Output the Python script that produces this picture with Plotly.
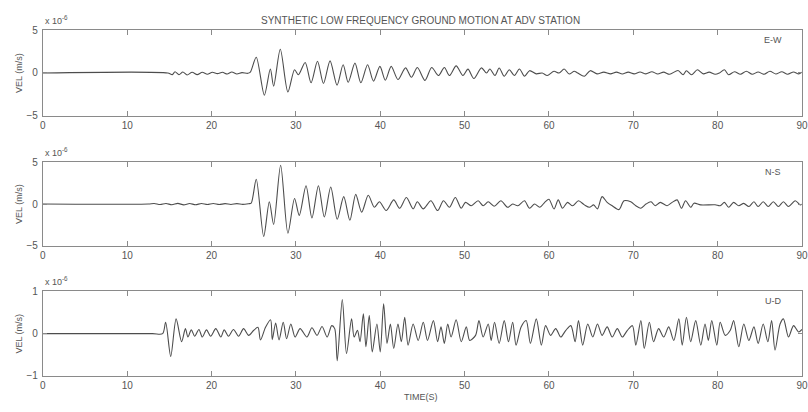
import plotly.graph_objects as go

# ---------------- data (velocity in units of 1e-6 m/s) ----------------
ew_t = [0, 14.8, 15.35, 15.67, 16.14, 16.6, 17.1, 17.7, 18.3, 18.9, 19.5, 20.1, 20.7, 21.3, 21.85, 22.4, 23.0, 23.6, 24.3,
        24.6, 25.3, 26.26, 26.97, 27.36, 28.15, 29.05, 29.84, 30.3, 31.1, 31.8, 32.56, 33.27, 34.05, 34.88, 35.6, 36.2,
        37.0, 37.7, 38.5, 39.2, 39.96, 40.6, 41.3, 42.1, 43.0, 43.7, 44.4, 45.3, 46.1, 46.9, 47.6, 48.2, 49.0, 49.8,
        50.4, 51.1, 52.0, 52.6, 53.0, 53.6, 54.1, 54.7, 55.3, 55.9, 56.5, 57.1, 57.7, 58.5, 59.2, 59.8, 60.6, 61.2,
        61.8, 62.4, 63.0, 63.4, 64.2, 64.9, 65.7, 66.5, 67.3, 68.0, 68.7, 69.4, 70.1, 70.8, 71.5, 72.2, 72.9, 73.6,
        74.3, 75.3, 75.9, 76.3, 76.9, 77.6, 78.3, 79.0, 79.7, 80.2, 80.8, 81.3, 82.0, 82.7, 83.4, 84.1, 84.8, 85.5,
        86.2, 86.9, 87.6, 88.3, 89.0, 89.6, 90]
ew_v = [0, 0, -0.19, 0.15, -0.19, 0.12, -0.23, 0.08, -0.19, 0.08, -0.15, 0.08, -0.08, 0.08, -0.12, 0.12, -0.12, 0.04, -0.04,
        0.1, 1.85, -2.6, 0.46, -1.54, 2.77, -2.23, 0.38, -0.2, 1.23, -1.15, 1.38, -1.23, 1.42, -1.42, 0.96, -1.08,
        1.15, -1.15, 0.96, -0.96, 0.77, -0.85, 0.77, -0.77, 0.6, -0.5, 0.64, -0.87, 0.64, -0.3, 0.64, -0.3, 0.83, -0.3,
        0.45, -0.65, 0.6, 0.0, 0.46, -0.3, 0.58, -0.38, 0.38, -0.3, 0.46, -0.38, 0.27, -0.1, 0.0, -0.3, 0.2, 0.0,
        0.46, -0.12, 0.2, 0.0, -0.38, 0.27, -0.1, 0.1, -0.1, 0.1, -0.12, 0.1, -0.1, 0.12, -0.1, 0.15, -0.12, 0.1,
        -0.15, 0.3, -0.2, 0.27, -0.2, 0.38, -0.1, 0.1, -0.15, 0.0, 0.38, -0.2, 0.15, -0.15, 0.2, -0.15, 0.12, -0.15,
        0.2, -0.12, 0.15, -0.15, 0.12, -0.1, 0.1]

ns_t = [0, 12.5, 13.2, 13.9, 14.6, 15.3, 16.0, 16.7, 17.4, 18.1, 18.8, 19.5, 20.2, 20.9, 21.6, 22.3, 23.0, 23.7, 24.4,
        24.7, 25.3, 26.18, 26.85, 27.36, 28.19, 29.05, 29.84, 30.4, 31.2, 31.9, 32.67, 33.37, 34.13, 34.9, 35.67, 36.4,
        37.09, 37.8, 38.58, 39.3, 39.9, 40.7, 41.6, 42.3, 43.1, 43.9, 44.4, 45.1, 46.0, 46.8, 47.5, 48.2, 48.9, 49.6,
        50.1, 50.8, 51.6, 52.2, 52.8, 53.5, 54.3, 55.1, 55.7, 56.3, 57.1, 57.7, 58.3, 58.9, 59.5, 60.0, 60.6, 61.1,
        61.6, 62.2, 62.8, 63.5, 64.2, 64.8, 65.3, 65.75, 66.3, 66.9, 67.5, 68.3, 68.9, 69.7, 70.3, 70.9, 71.5, 72.1,
        72.6, 73.2, 74.0, 74.6, 75.2, 75.7, 76.2, 76.8, 77.2, 78.0, 79.7, 80.3, 80.8, 81.3, 81.9, 82.5, 83.1, 83.7,
        84.3, 84.8, 85.4, 86.0, 86.6, 87.2, 87.8, 88.4, 89.2, 89.8, 90]
ns_v = [0, 0, 0.06, -0.06, 0.06, -0.08, 0.08, -0.1, 0.06, -0.08, 0.06, -0.06, 0.06, -0.06, 0.05, -0.05, 0.05, -0.04, 0.04,
        0.1, 2.98, -3.88, 0.27, -2.44, 4.65, -3.49, 0.66, -1.36, 2.2, -1.67, 2.2, -1.55, 2.05, -1.82, 0.89, -1.94,
        1.16, -0.97, 1.05, -0.39, 0.27, -0.78, 0.5, -0.5, 0.78, -0.58, 0.27, -0.58, 0.39, -0.78, 0.39, -0.39, 0.78, -0.5,
        0.2, -0.2, 0.39, -0.2, 0.27, -0.27, 0.39, -0.39, 0.0, -0.2, 0.39, -0.5, 0.0, -0.39, 0.2, 0.58, -0.58, 0.5,
        -0.5, 0.2, -0.2, 0.39, -0.1, -0.39, -0.1, -0.58, 0.89, 0.2, -0.2, -0.66, 0.39, 0.27, -0.2, -0.5, 0.0, 0.27,
        -0.2, 0.2, -0.2, 0.2, 0.5, -0.5, 0.39, -0.39, 0.1, -0.1, -0.08, -0.2, 0.2, -0.39, 0.2, -0.2, 0.08, -0.3,
        0.27, -0.3, 0.27, -0.3, 0.27, -0.3, 0.27, -0.3, 0.39, -0.1, 0.0]

ud_t = [0, 13.0, 14.2, 14.56, 15.16, 15.8, 16.45, 16.9, 17.2, 17.6, 18.0, 18.5, 18.9, 19.4, 19.9, 20.5, 21.1, 21.5, 22.0,
        22.6, 23.2, 23.8, 24.4, 25.0, 25.5, 25.8, 26.4, 27.0, 27.2, 27.6, 28.0, 28.5, 28.9, 29.4, 29.9, 30.5, 31.3,
        31.9, 32.5, 33.1, 33.7, 34.25, 34.6, 34.9, 35.5, 36.0, 36.6, 36.9, 37.3, 37.6, 38.0, 38.3, 38.7, 39.05, 39.6,
        40.0, 40.4, 40.8, 41.2, 41.6, 42.1, 42.5, 42.9, 43.3, 43.9, 44.5, 45.1, 45.6, 46.3, 46.8, 47.2, 47.6, 48.0,
        48.4, 49.0, 49.6, 50.2, 50.6, 51.3, 51.7, 52.2, 52.8, 53.15, 53.55, 54.1, 54.7, 55.2, 55.7, 56.1, 56.7, 57.3,
        57.8, 58.5, 59.1, 59.6, 60.2, 60.8, 61.4, 62.0, 62.6, 63.1, 63.5, 64.0, 64.6, 65.2, 65.75, 66.3, 66.9, 67.5,
        68.1, 68.7, 69.3, 69.9, 70.3, 70.9, 71.3, 71.9, 72.4, 73.0, 73.6, 74.2, 74.8, 75.4, 75.8, 76.3, 76.8, 77.4,
        78.0, 78.5, 78.9, 79.3, 79.9, 80.3, 80.9, 81.5, 81.9, 82.5, 83.1, 83.7, 84.3, 84.8, 85.4, 85.95, 86.4, 86.8,
        87.4, 87.8, 88.4, 89.0, 89.6, 90]
ud_v = [0, 0, 0, 0.27, -0.54, 0.35, -0.19, 0.12, -0.08, 0.09, -0.06, 0.1, -0.08, 0.09, -0.06, 0.12, -0.08, 0.09, -0.06,
        0.1, -0.06, 0.12, -0.04, 0.08, 0.15, -0.15, 0.15, 0.33, -0.14, 0.25, -0.15, 0.27, -0.12, 0.23, -0.08, 0.12, -0.08,
        0.14, -0.04, 0.17, -0.08, 0.19, 0.12, -0.64, 0.81, -0.47, 0.35, -0.08, 0.08, -0.19, 0.47, -0.31, 0.43, -0.43, 0.23,
        -0.43, 0.71, -0.23, 0.23, -0.35, 0.23, -0.19, 0.39, -0.27, 0.23, -0.16, 0.27, -0.16, 0.31, -0.19, 0.16, -0.23, 0.23,
        -0.08, 0.33, -0.19, 0.16, -0.16, -0.04, 0.31, -0.08, 0.23, -0.16, 0.27, -0.23, 0.31, -0.19, 0.27, -0.27, 0.16, 0.31,
        -0.23, 0.35, -0.27, 0.19, -0.04, 0.12, -0.08, 0.08, 0.19, -0.19, 0.31, -0.27, 0.23, -0.08, 0.23, -0.04, 0.16, -0.08,
        0.12, -0.08, 0.08, 0.19, -0.27, 0.31, -0.35, 0.27, -0.19, 0.12, -0.08, 0.16, -0.16, 0.35, -0.27, 0.39, -0.19, 0.31,
        -0.27, 0.23, -0.16, 0.31, -0.27, 0.27, -0.04, 0.08, 0.31, -0.31, 0.23, -0.16, 0.16, -0.23, 0.23, -0.19, 0.31, -0.39,
        0.23, 0.35, -0.08, 0.19, 0.04, 0.1]

x_ticks = [0, 10, 20, 30, 40, 50, 60, 70, 80, 90]
panels = [
    dict(t=ew_t, v=ew_v, yticks=[-5, 0, 5], yrange=[-5, 5], label="E-W"),
    dict(t=ns_t, v=ns_v, yticks=[-5, 0, 5], yrange=[-5, 5], label="N-S"),
    dict(t=ud_t, v=ud_v, yticks=[-1, 0, 1], yrange=[-1, 1], label="U-D"),
]
title_text = "SYNTHETIC LOW FREQUENCY GROUND MOTION AT ADV STATION"
xlabel = "TIME(S)"
ylabel = "VEL (m/s)"

# ---------------- layout geometry ----------------
W, H = 808, 412
MR = 6                      # right margin so the last tick label fits
PW = W - MR                 # plot-area width in px
x_dom = [40 / PW, 802 / PW]
y_doms = [[1 - 113 / H, 1 - 25 / H], [1 - 247 / H, 1 - 161 / H], [1 - 381 / H, 1 - 294 / H]]

FONT = "Liberation Sans, Arial, sans-serif"
AX = "#8a8a8a"
TXT = "#555555"

fig = go.Figure()
layout = dict(width=W, height=H, autosize=False, margin=dict(l=0, r=MR, t=0, b=0, pad=0),
              paper_bgcolor="white", plot_bgcolor="white", showlegend=False,
              font=dict(family=FONT, size=10, color=TXT))
annotations = []
for i, p in enumerate(panels):
    k = "" if i == 0 else str(i + 1)
    fig.add_trace(go.Scatter(x=p["t"], y=p["v"], mode="lines", xaxis="x" + k, yaxis="y" + k,
                             line=dict(color="#4d4d4d", width=1.1, shape="spline", smoothing=0.8),
                             hoverinfo="skip"))
    layout["xaxis" + k] = dict(domain=x_dom, anchor="y" + k, range=[0, 90], tickvals=x_ticks,
                               ticks="inside", ticklen=5, tickcolor=AX, showline=True, linecolor=AX,
                               linewidth=1, mirror="ticks", showgrid=False, zeroline=False,
                               tickfont=dict(size=10, color=TXT))
    layout["yaxis" + k] = dict(domain=y_doms[i], anchor="x" + k, range=p["yrange"], tickvals=p["yticks"],
                               ticks="inside", ticklen=4, tickcolor=AX, showline=True, linecolor=AX,
                               linewidth=1, mirror="ticks", showgrid=False, zeroline=False,
                               tickfont=dict(size=10, color=TXT), ticklabelstandoff=2)
    top_px = [25, 161, 294][i]
    bot_px = [113, 247, 381][i]
    annotations.append(dict(text="x 10<sup>-6</sup>", xref="paper", yref="paper", x=40 / PW, y=1 - (top_px - 2) / H,
                            xanchor="left", yanchor="bottom", showarrow=False, font=dict(size=9, color=TXT)))
    annotations.append(dict(text=ylabel, xref="paper", yref="paper", x=16 / PW, y=1 - ((top_px + bot_px) / 2) / H,
                            xanchor="center", yanchor="middle", textangle=-90, showarrow=False,
                            font=dict(size=9, color=TXT)))
    annotations.append(dict(text=p["label"], xref="paper", yref="paper", x=773 / PW, y=1 - (top_px + 10) / H,
                            xanchor="center", yanchor="middle", showarrow=False, font=dict(size=9, color=TXT)))

annotations.append(dict(text=title_text, xref="paper", yref="paper", x=419 / PW, y=1 - 15 / H,
                        xanchor="center", yanchor="middle", showarrow=False, font=dict(size=10, color=TXT)))
annotations.append(dict(text=xlabel, xref="paper", yref="paper", x=420 / PW, y=1 - 403 / H,
                        xanchor="center", yanchor="middle", showarrow=False, font=dict(size=9, color=TXT)))
layout["annotations"] = annotations
fig.update_layout(**layout)
page_css = ("var s=document.createElement('style');"
            "s.textContent='html,body{margin:0;padding:0;overflow:hidden;width:808px;height:412px;}';"
            "document.head.appendChild(s);")
fig.write_html("out.html", config={"displayModeBar": False, "staticPlot": True},
               post_script=page_css)
